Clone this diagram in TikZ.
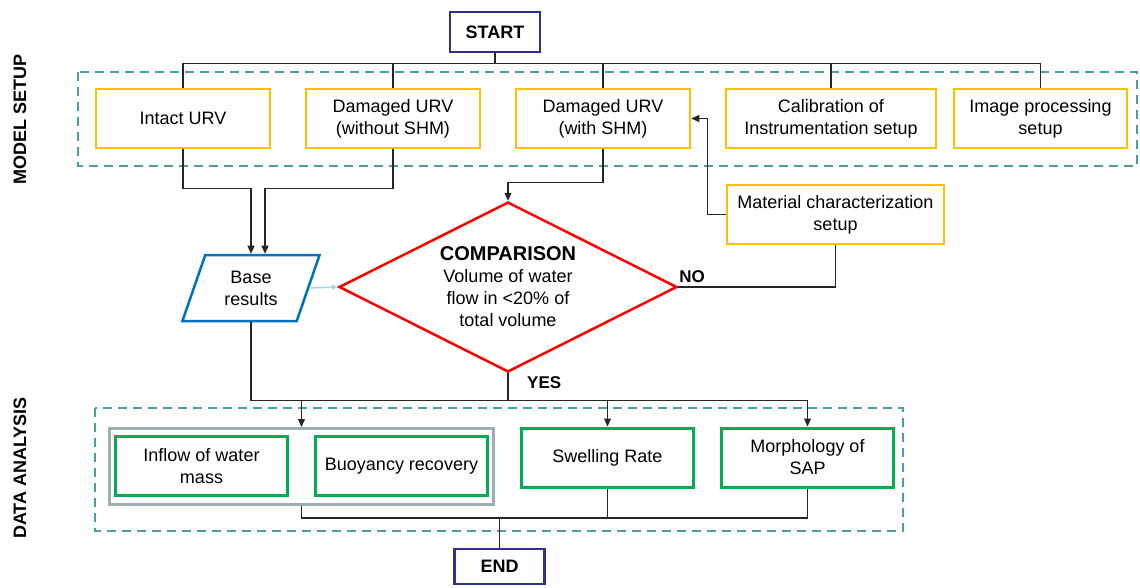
\documentclass[tikz,border=0pt]{standalone}
\usepackage{fontspec}
\setmainfont{Liberation Sans}
\usetikzlibrary{positioning}
\usetikzlibrary{shapes.geometric}
\usetikzlibrary{arrows.meta}
\definecolor{setupyellow}{HTML}{FFC000}
\definecolor{resgreen}{HTML}{00B050}
\definecolor{cmpred}{HTML}{FF0000}
\definecolor{termnavy}{HTML}{2E3192}
\definecolor{baseblue}{HTML}{0070C0}
\definecolor{frameteal}{HTML}{4A9FA5}
\definecolor{grpgray}{HTML}{9EAFB2}
\definecolor{paleblue}{HTML}{A6D8E2}
\tikzset{
  every node/.style={font=\fontsize{18}{22}\selectfont},
  setupbox/.style={draw=setupyellow, line width=2.5pt, minimum width=174pt, minimum height=59pt, align=center, inner sep=2pt},
  resultbox/.style={draw=resgreen, line width=3pt, minimum width=172pt, minimum height=59pt, align=center, inner sep=2pt},
  termbox/.style={draw=termnavy, line width=2.5pt, minimum width=90pt, minimum height=40pt, font=\bfseries\fontsize{18}{22}\selectfont},
  groupbox/.style={draw=grpgray, line width=3pt, minimum width=384pt, minimum height=76pt},
  dashbox/.style={draw=frameteal, line width=2.5pt, dash pattern=on 9pt off 6pt},
  sidelabel/.style={rotate=90, font=\bfseries\fontsize{18}{22}\selectfont},
  flaglabel/.style={inner sep=1pt, font=\bfseries\fontsize{17}{20}\selectfont},
  conn/.style={line width=1.2pt, black!85},
  arr/.style={-{Triangle[length=8pt,width=7pt]}},
  lightarr/.style={draw=paleblue, line width=1.5pt, -{Triangle[length=6pt,width=5pt]}},
}
\begin{document}
\begin{tikzpicture}[x=1pt,y=-1pt]
  \useasboundingbox (0,0) rectangle (1140,587);

  % frames
  \draw[dashbox] (78,72) rectangle (1137,166);
  \draw[dashbox] (95,408) rectangle (903,531);
  \node (lblsetup) [sidelabel] at (20,119) {MODEL SETUP};
  \node (lbldata) [sidelabel] at (20,468) {DATA ANALYSIS};

  % model setup
  \node (start)   [termbox] at (495,32) {START};
  \node (intact)  [setupbox] at (183,118.5) {Intact URV};
  \node (dmgno)   [setupbox, right=33.5pt of intact] {Damaged URV\\(without SHM)};
  \node (dmgshm)  [setupbox, right=33.5pt of dmgno] {Damaged URV\\(with SHM)};
  \node (calib)   [setupbox, minimum width=210pt, right=33.5pt of dmgshm] {Calibration of\\Instrumentation setup};
  \node (imgproc) [setupbox, minimum width=173pt, right=15.5pt of calib] {Image processing\\setup};
  \node (matchar) [setupbox, minimum width=217pt] at (835.5,214.5) {Material characterization\\setup};

  % decision
  \node (base) [trapezium, trapezium left angle=69, trapezium right angle=111, trapezium stretches=true,
                draw=baseblue, line width=2.5pt, minimum width=138pt, minimum height=66pt,
                align=center, inner sep=0pt] at (251,288) {Base\\results};
  \node (cmp) [diamond, aspect=1.98, draw=cmpred, line width=2.5pt, inner sep=0pt,
               minimum width=338pt, minimum height=170pt, align=center] at (508,287)
               {{\bfseries\fontsize{20}{22}\selectfont COMPARISON}\\Volume of water\\flow in <20\% of\\total volume};
  \node (no)  [flaglabel, above right=3pt and 0pt of cmp.east] {NO};
  \node (yes) [flaglabel, below right=2pt and 18pt of cmp.south] {YES};

  % data analysis
  \node (grp)    [groupbox] at (301.5,466.5) {};
  \node (inflow) [resultbox] at (201.5,466) {Inflow of water\\mass};
  \node (buoy)   [resultbox, right=25pt of inflow] {Buoyancy recovery};
  \node (swell)  [resultbox] at (607.5,457.5) {Swelling Rate};
  \node (morph)  [resultbox, right=25pt of swell] {Morphology of\\SAP};
  \node (fin)    [termbox, minimum height=35pt] at (499.5,566.5) {END};

  % connectors
  \foreach \n in {intact,dmgno,dmgshm,calib,imgproc}
    \draw[conn] (start.south) -- ++(0,10) -| (\n.north);
  \draw[conn,arr] (intact.south) -- ++(0,39) -| (base.north);
  \draw[conn,arr] (dmgno.south) -- ++(0,39) -| ([xshift=14pt]base.north);
  \draw[conn,arr] (dmgshm.south) -- ++(0,33) -| (cmp.north);
  \draw[lightarr] (base.east) -- (cmp.west);
  \draw[conn] (cmp.east) -| (matchar.south);
  \draw[conn,arr] (matchar.west) -- ++(-18,0) |- (dmgshm.east);

  \draw[conn,arr] (base.south) |- ([yshift=26pt]morph.north) -- (morph.north);
  \draw[conn] (cmp.south) -- ++(0,28);
  \foreach \n in {grp,swell}
    \draw[conn,arr] ([yshift=26pt]\n.north) -- (\n.north);
  \coordinate (join) at (499.5,518);
  \foreach \n in {grp,swell,morph}
    \draw[conn] (\n.south) |- (join);
  \draw[conn] (join) -- (fin.north);
\end{tikzpicture}
\end{document}
